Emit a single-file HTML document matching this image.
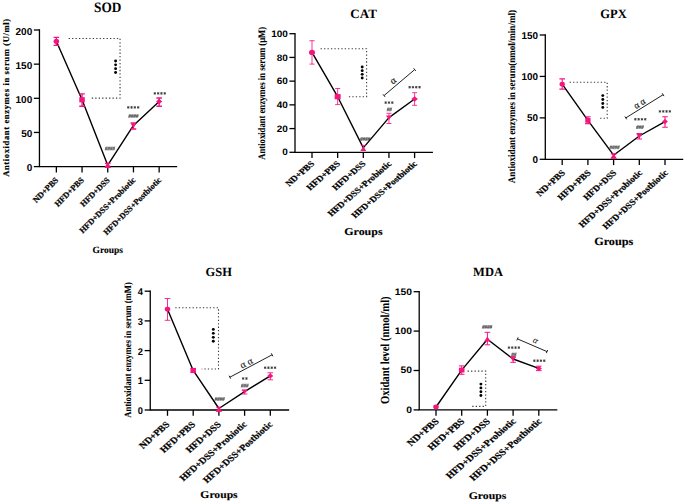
<!DOCTYPE html>
<html><head><meta charset="utf-8"><style>
html,body{margin:0;padding:0;background:#fff;}
svg{display:block;} text{text-rendering:geometricPrecision;} .sl{stroke:#000;stroke-width:0.22px;} .st{stroke:#000;stroke-width:0.12px;}
</style></head><body>
<svg width="685" height="503" viewBox="0 0 685 503">
<rect width="685" height="503" fill="#fff"/>
<path d="M39.45,30.0 L39.45,166.6 L176.5,166.6" fill="none" stroke="#000" stroke-width="1.3" stroke-linejoin="miter" stroke-linecap="square"/>
<line x1="33.85" y1="166.60" x2="39.45" y2="166.60" stroke="#000" stroke-width="1.3"/>
<text transform="translate(32.25,171.10)" font-family='"Liberation Sans", sans-serif' font-weight="bold" font-size="10" text-anchor="end">0</text>
<line x1="33.85" y1="132.45" x2="39.45" y2="132.45" stroke="#000" stroke-width="1.3"/>
<text transform="translate(32.25,136.95)" font-family='"Liberation Sans", sans-serif' font-weight="bold" font-size="10" text-anchor="end">50</text>
<line x1="33.85" y1="98.30" x2="39.45" y2="98.30" stroke="#000" stroke-width="1.3"/>
<text transform="translate(32.25,102.80)" font-family='"Liberation Sans", sans-serif' font-weight="bold" font-size="10" text-anchor="end">100</text>
<line x1="33.85" y1="64.15" x2="39.45" y2="64.15" stroke="#000" stroke-width="1.3"/>
<text transform="translate(32.25,68.65)" font-family='"Liberation Sans", sans-serif' font-weight="bold" font-size="10" text-anchor="end">150</text>
<line x1="33.85" y1="30.00" x2="39.45" y2="30.00" stroke="#000" stroke-width="1.3"/>
<text transform="translate(32.25,34.50)" font-family='"Liberation Sans", sans-serif' font-weight="bold" font-size="10" text-anchor="end">200</text>
<line x1="56.35" y1="166.6" x2="56.35" y2="172.4" stroke="#000" stroke-width="1.3"/>
<line x1="82.05" y1="166.6" x2="82.05" y2="172.4" stroke="#000" stroke-width="1.3"/>
<line x1="107.75" y1="166.6" x2="107.75" y2="172.4" stroke="#000" stroke-width="1.3"/>
<line x1="133.45" y1="166.6" x2="133.45" y2="172.4" stroke="#000" stroke-width="1.3"/>
<line x1="159.15" y1="166.6" x2="159.15" y2="172.4" stroke="#000" stroke-width="1.3"/>
<text class="sl" transform="translate(58.85,180.60) rotate(-45)" font-family='"Liberation Serif", serif' font-weight="bold" font-size="8.35" text-anchor="end">ND+PBS</text>
<text class="sl" transform="translate(84.55,180.60) rotate(-45)" font-family='"Liberation Serif", serif' font-weight="bold" font-size="8.35" text-anchor="end">HFD+PBS</text>
<text class="sl" transform="translate(110.25,180.60) rotate(-45)" font-family='"Liberation Serif", serif' font-weight="bold" font-size="8.35" text-anchor="end">HFD+DSS</text>
<text class="sl" transform="translate(135.95,180.60) rotate(-45)" font-family='"Liberation Serif", serif' font-weight="bold" font-size="8.35" text-anchor="end">HFD+DSS+Probiotic</text>
<text class="sl" transform="translate(161.65,180.60) rotate(-45)" font-family='"Liberation Serif", serif' font-weight="bold" font-size="8.35" text-anchor="end">HFD+DSS+Postbiotic</text>
<text class="st" transform="translate(107.80,253.10)" font-family='"Liberation Serif", serif' font-weight="bold" font-size="9.5" text-anchor="middle">Groups</text>
<text transform="translate(107.70,11.60) scale(0.93,1)" font-family='"Liberation Serif", serif' font-weight="bold" font-size="14.3" text-anchor="middle">SOD</text>
<text transform="translate(9.10,97.60) rotate(-90)" font-family='"Liberation Serif", serif' font-weight="bold" font-size="8.6" letter-spacing="0.6" stroke="#000" stroke-width="0.18" text-anchor="middle">Antioxidant enzymes in serum (U/ml)</text>
<path d="M68.6,38.5 L120.05,38.5 L120.05,98.1 L90,98.1" fill="none" stroke="#3a3a3a" stroke-width="1.1" stroke-dasharray="1.3,2.15"/>
<circle cx="115.6" cy="61.00" r="1.45" fill="#000"/>
<circle cx="115.6" cy="64.83" r="1.45" fill="#000"/>
<circle cx="115.6" cy="68.67" r="1.45" fill="#000"/>
<circle cx="115.6" cy="72.50" r="1.45" fill="#000"/>
<polyline points="56.35,41.30 82.05,99.80 107.75,165.20 133.45,125.40 159.15,101.50" fill="none" stroke="#000" stroke-width="1.4" stroke-linejoin="round"/>
<path d="M56.35,37.40 L56.35,45.40 M53.55,37.40 L59.15,37.40 M53.55,45.40 L59.15,45.40" stroke="#f5157f" stroke-width="1.35" fill="none"/>
<path d="M82.05,93.90 L82.05,106.20 M79.25,93.90 L84.85,93.90 M79.25,106.20 L84.85,106.20" stroke="#f5157f" stroke-width="1.35" fill="none"/>
<path d="M107.75,163.40 L107.75,167.30 M104.95,163.40 L110.55,163.40 M104.95,167.30 L110.55,167.30" stroke="#f5157f" stroke-width="1.35" fill="none"/>
<path d="M133.45,122.90 L133.45,129.00 M130.65,122.90 L136.25,122.90 M130.65,129.00 L136.25,129.00" stroke="#f5157f" stroke-width="1.35" fill="none"/>
<path d="M159.15,98.00 L159.15,106.20 M156.35,98.00 L161.95,98.00 M156.35,106.20 L161.95,106.20" stroke="#f5157f" stroke-width="1.35" fill="none"/>
<g transform="translate(56.35,41.30) scale(1.06,1)"><circle cx="0" cy="0" r="2.60" fill="#f5157f"/></g>
<g transform="translate(82.05,99.80) scale(1.06,1)"><rect x="-2.60" y="-2.60" width="5.20" height="5.20" fill="#f5157f"/></g>
<g transform="translate(107.75,165.20) scale(1.06,1)"><path d="M0,-2.86 L3.12,2.43 L-3.12,2.43Z" fill="#f5157f"/></g>
<g transform="translate(133.45,125.40) scale(1.06,1)"><path d="M0,2.57 L2.81,-2.19 L-2.81,-2.19Z" fill="#f5157f"/></g>
<g transform="translate(159.15,101.50) scale(1.06,1)"><path d="M0,-2.87 L2.87,0 L0,2.87 L-2.87,0Z" fill="#f5157f"/></g>
<path d="M105.05,150.40 L106.25,146.60 M106.15,150.40 L107.35,146.60 M105.05,147.90 L107.45,147.90 M105.05,149.10 L107.45,149.10 M107.55,150.40 L108.75,146.60 M108.65,150.40 L109.85,146.60 M107.55,147.90 L109.95,147.90 M107.55,149.10 L109.95,149.10 M110.05,150.40 L111.25,146.60 M111.15,150.40 L112.35,146.60 M110.05,147.90 L112.45,147.90 M110.05,149.10 L112.45,149.10 M112.55,150.40 L113.75,146.60 M113.65,150.40 L114.85,146.60 M112.55,147.90 L114.95,147.90 M112.55,149.10 L114.95,149.10 " stroke="#333" stroke-width="0.55" fill="none"/>
<path d="M128.25,106.14 V108.67 M127.10,106.77 L129.40,108.03 M127.10,108.03 L129.40,106.77 M131.55,106.14 V108.67 M130.40,106.77 L132.70,108.03 M130.40,108.03 L132.70,106.77 M134.85,106.14 V108.67 M133.70,106.77 L136.00,108.03 M133.70,108.03 L136.00,106.77 M138.15,106.14 V108.67 M137.00,106.77 L139.30,108.03 M137.00,108.03 L139.30,106.77 " stroke="#3a3a3a" stroke-width="0.9" fill="none"/>
<path d="M128.55,117.90 L129.75,114.10 M129.65,117.90 L130.85,114.10 M128.55,115.40 L130.95,115.40 M128.55,116.60 L130.95,116.60 M131.05,117.90 L132.25,114.10 M132.15,117.90 L133.35,114.10 M131.05,115.40 L133.45,115.40 M131.05,116.60 L133.45,116.60 M133.55,117.90 L134.75,114.10 M134.65,117.90 L135.85,114.10 M133.55,115.40 L135.95,115.40 M133.55,116.60 L135.95,116.60 M136.05,117.90 L137.25,114.10 M137.15,117.90 L138.35,114.10 M136.05,115.40 L138.45,115.40 M136.05,116.60 L138.45,116.60 " stroke="#333" stroke-width="0.55" fill="none"/>
<path d="M154.85,92.14 V94.67 M153.70,92.77 L156.00,94.03 M153.70,94.03 L156.00,92.77 M158.15,92.14 V94.67 M157.00,92.77 L159.30,94.03 M157.00,94.03 L159.30,92.77 M161.45,92.14 V94.67 M160.30,92.77 L162.60,94.03 M160.30,94.03 L162.60,92.77 M164.75,92.14 V94.67 M163.60,92.77 L165.90,94.03 M163.60,94.03 L165.90,92.77 " stroke="#3a3a3a" stroke-width="0.9" fill="none"/>
<path d="M295.0,33.7 L295.0,152.3 L432.3,152.3" fill="none" stroke="#000" stroke-width="1.3" stroke-linejoin="miter" stroke-linecap="square"/>
<line x1="289.4" y1="152.30" x2="295.0" y2="152.30" stroke="#000" stroke-width="1.3"/>
<text transform="translate(287.80,155.48) scale(1.065,1)" font-family='"Liberation Sans", sans-serif' font-weight="bold" font-size="9.4" text-anchor="end">0</text>
<line x1="289.4" y1="128.58" x2="295.0" y2="128.58" stroke="#000" stroke-width="1.3"/>
<text transform="translate(287.80,131.76) scale(1.065,1)" font-family='"Liberation Sans", sans-serif' font-weight="bold" font-size="9.4" text-anchor="end">20</text>
<line x1="289.4" y1="104.86" x2="295.0" y2="104.86" stroke="#000" stroke-width="1.3"/>
<text transform="translate(287.80,108.04) scale(1.065,1)" font-family='"Liberation Sans", sans-serif' font-weight="bold" font-size="9.4" text-anchor="end">40</text>
<line x1="289.4" y1="81.14" x2="295.0" y2="81.14" stroke="#000" stroke-width="1.3"/>
<text transform="translate(287.80,84.32) scale(1.065,1)" font-family='"Liberation Sans", sans-serif' font-weight="bold" font-size="9.4" text-anchor="end">60</text>
<line x1="289.4" y1="57.42" x2="295.0" y2="57.42" stroke="#000" stroke-width="1.3"/>
<text transform="translate(287.80,60.60) scale(1.065,1)" font-family='"Liberation Sans", sans-serif' font-weight="bold" font-size="9.4" text-anchor="end">80</text>
<line x1="289.4" y1="33.70" x2="295.0" y2="33.70" stroke="#000" stroke-width="1.3"/>
<text transform="translate(287.80,36.88) scale(1.065,1)" font-family='"Liberation Sans", sans-serif' font-weight="bold" font-size="9.4" text-anchor="end">100</text>
<line x1="312.00" y1="152.3" x2="312.00" y2="158.10000000000002" stroke="#000" stroke-width="1.3"/>
<line x1="337.65" y1="152.3" x2="337.65" y2="158.10000000000002" stroke="#000" stroke-width="1.3"/>
<line x1="363.30" y1="152.3" x2="363.30" y2="158.10000000000002" stroke="#000" stroke-width="1.3"/>
<line x1="388.95" y1="152.3" x2="388.95" y2="158.10000000000002" stroke="#000" stroke-width="1.3"/>
<line x1="414.60" y1="152.3" x2="414.60" y2="158.10000000000002" stroke="#000" stroke-width="1.3"/>
<text class="sl" transform="translate(315.00,164.30) scale(1.15,1) rotate(-45)" font-family='"Liberation Serif", serif' font-weight="bold" font-size="8.25" text-anchor="end">ND+PBS</text>
<text class="sl" transform="translate(340.65,164.30) scale(1.15,1) rotate(-45)" font-family='"Liberation Serif", serif' font-weight="bold" font-size="8.25" text-anchor="end">HFD+PBS</text>
<text class="sl" transform="translate(366.30,164.30) scale(1.15,1) rotate(-45)" font-family='"Liberation Serif", serif' font-weight="bold" font-size="8.25" text-anchor="end">HFD+DSS</text>
<text class="sl" transform="translate(391.95,164.30) scale(1.15,1) rotate(-45)" font-family='"Liberation Serif", serif' font-weight="bold" font-size="8.25" text-anchor="end">HFD+DSS+Probiotic</text>
<text class="sl" transform="translate(417.60,164.30) scale(1.15,1) rotate(-45)" font-family='"Liberation Serif", serif' font-weight="bold" font-size="8.25" text-anchor="end">HFD+DSS+Postbiotic</text>
<text class="st" transform="translate(363.40,235.00) scale(1.15,1)" font-family='"Liberation Serif", serif' font-weight="bold" font-size="10.4" text-anchor="middle">Groups</text>
<text transform="translate(363.60,18.00) scale(1.02,1)" font-family='"Liberation Serif", serif' font-weight="bold" font-size="12.8" text-anchor="middle">CAT</text>
<text transform="translate(265.20,93.30) scale(1.15,1) rotate(-90)" font-family='"Liberation Serif", serif' font-weight="bold" font-size="8.65" letter-spacing="0" stroke="#000" stroke-width="0.06" text-anchor="middle">Antioxidant enzymes in serum (μM)</text>
<path d="M320.6,48.7 L366.6,48.7 L366.6,96.7 L346.7,96.7" fill="none" stroke="#3a3a3a" stroke-width="1.1" stroke-dasharray="1.3,2.15"/>
<circle cx="362.2" cy="67.00" r="1.45" fill="#000"/>
<circle cx="362.2" cy="70.67" r="1.45" fill="#000"/>
<circle cx="362.2" cy="74.33" r="1.45" fill="#000"/>
<circle cx="362.2" cy="78.00" r="1.45" fill="#000"/>
<polyline points="312.00,52.40 337.65,96.70 363.30,147.90 388.95,117.60 414.60,99.00" fill="none" stroke="#000" stroke-width="1.4" stroke-linejoin="round"/>
<path d="M312.00,40.70 L312.00,64.10 M309.50,40.70 L314.50,40.70 M309.50,64.10 L314.50,64.10" stroke="#f5157f" stroke-width="0.85" fill="none"/>
<path d="M337.65,88.50 L337.65,104.60 M335.15,88.50 L340.15,88.50 M335.15,104.60 L340.15,104.60" stroke="#f5157f" stroke-width="0.85" fill="none"/>
<path d="M363.30,145.50 L363.30,150.50 M360.80,145.50 L365.80,145.50 M360.80,150.50 L365.80,150.50" stroke="#f5157f" stroke-width="0.85" fill="none"/>
<path d="M388.95,113.30 L388.95,123.50 M386.45,113.30 L391.45,113.30 M386.45,123.50 L391.45,123.50" stroke="#f5157f" stroke-width="0.85" fill="none"/>
<path d="M414.60,92.70 L414.60,105.30 M412.10,92.70 L417.10,92.70 M412.10,105.30 L417.10,105.30" stroke="#f5157f" stroke-width="0.85" fill="none"/>
<g transform="translate(312.00,52.40) scale(1.15,1)"><circle cx="0" cy="0" r="2.60" fill="#f5157f"/></g>
<g transform="translate(337.65,96.70) scale(1.15,1)"><rect x="-2.60" y="-2.60" width="5.20" height="5.20" fill="#f5157f"/></g>
<g transform="translate(363.30,148.90) scale(1.15,1)"><path d="M0,-2.29 L2.50,1.94 L-2.50,1.94Z" fill="#f5157f"/></g>
<g transform="translate(388.95,117.60) scale(1.15,1)"><path d="M0,2.43 L2.65,-2.07 L-2.65,-2.07Z" fill="#f5157f"/></g>
<g transform="translate(414.60,99.00) scale(1.15,1)"><path d="M0,-2.87 L2.87,0 L0,2.87 L-2.87,0Z" fill="#f5157f"/></g>
<path d="M360.25,140.90 L361.45,137.10 M361.35,140.90 L362.55,137.10 M360.25,138.40 L362.65,138.40 M360.25,139.60 L362.65,139.60 M362.75,140.90 L363.95,137.10 M363.85,140.90 L365.05,137.10 M362.75,138.40 L365.15,138.40 M362.75,139.60 L365.15,139.60 M365.25,140.90 L366.45,137.10 M366.35,140.90 L367.55,137.10 M365.25,138.40 L367.65,138.40 M365.25,139.60 L367.65,139.60 M367.75,140.90 L368.95,137.10 M368.85,140.90 L370.05,137.10 M367.75,138.40 L370.15,138.40 M367.75,139.60 L370.15,139.60 " stroke="#333" stroke-width="0.55" fill="none"/>
<path d="M385.70,101.33 V103.86 M384.55,101.97 L386.85,103.23 M384.55,103.23 L386.85,101.97 M389.00,101.33 V103.86 M387.85,101.97 L390.15,103.23 M387.85,103.23 L390.15,101.97 M392.30,101.33 V103.86 M391.15,101.97 L393.45,103.23 M391.15,103.23 L393.45,101.97 " stroke="#3a3a3a" stroke-width="0.9" fill="none"/>
<path d="M386.95,111.30 L388.15,107.50 M388.05,111.30 L389.25,107.50 M386.95,108.80 L389.35,108.80 M386.95,110.00 L389.35,110.00 M389.45,111.30 L390.65,107.50 M390.55,111.30 L391.75,107.50 M389.45,108.80 L391.85,108.80 M389.45,110.00 L391.85,110.00 " stroke="#333" stroke-width="0.55" fill="none"/>
<path d="M409.65,85.94 V88.47 M408.50,86.57 L410.80,87.83 M408.50,87.83 L410.80,86.57 M412.95,85.94 V88.47 M411.80,86.57 L414.10,87.83 M411.80,87.83 L414.10,86.57 M416.25,85.94 V88.47 M415.10,86.57 L417.40,87.83 M415.10,87.83 L417.40,86.57 M419.55,85.94 V88.47 M418.40,86.57 L420.70,87.83 M418.40,87.83 L420.70,86.57 " stroke="#3a3a3a" stroke-width="0.9" fill="none"/>
<path d="M384.0,95.6 L414.7,69.6 M382.90,94.30 L385.10,96.90 M413.60,68.30 L415.80,70.90" stroke="#222" stroke-width="1.0" fill="none"/>
<text transform="translate(393.51,81.34) rotate(-40.26)" x="0" y="2.30" font-family='"Liberation Serif", serif' font-style="normal" font-size="10" text-anchor="middle" fill="#1a1a1a" stroke="#1a1a1a" stroke-width="0.2">α</text>
<path d="M545.3,35.0 L545.3,159.3 L682.6,159.3" fill="none" stroke="#000" stroke-width="1.3" stroke-linejoin="miter" stroke-linecap="square"/>
<line x1="539.6999999999999" y1="159.30" x2="545.3" y2="159.30" stroke="#000" stroke-width="1.3"/>
<text transform="translate(538.10,162.86)" font-family='"Liberation Sans", sans-serif' font-weight="bold" font-size="9.9" text-anchor="end">0</text>
<line x1="539.6999999999999" y1="117.87" x2="545.3" y2="117.87" stroke="#000" stroke-width="1.3"/>
<text transform="translate(538.10,121.43)" font-family='"Liberation Sans", sans-serif' font-weight="bold" font-size="9.9" text-anchor="end">50</text>
<line x1="539.6999999999999" y1="76.43" x2="545.3" y2="76.43" stroke="#000" stroke-width="1.3"/>
<text transform="translate(538.10,80.00)" font-family='"Liberation Sans", sans-serif' font-weight="bold" font-size="9.9" text-anchor="end">100</text>
<line x1="539.6999999999999" y1="35.00" x2="545.3" y2="35.00" stroke="#000" stroke-width="1.3"/>
<text transform="translate(538.10,38.56)" font-family='"Liberation Sans", sans-serif' font-weight="bold" font-size="9.9" text-anchor="end">150</text>
<line x1="562.20" y1="159.3" x2="562.20" y2="165.10000000000002" stroke="#000" stroke-width="1.3"/>
<line x1="587.90" y1="159.3" x2="587.90" y2="165.10000000000002" stroke="#000" stroke-width="1.3"/>
<line x1="613.60" y1="159.3" x2="613.60" y2="165.10000000000002" stroke="#000" stroke-width="1.3"/>
<line x1="639.30" y1="159.3" x2="639.30" y2="165.10000000000002" stroke="#000" stroke-width="1.3"/>
<line x1="665.00" y1="159.3" x2="665.00" y2="165.10000000000002" stroke="#000" stroke-width="1.3"/>
<text class="sl" transform="translate(565.70,173.30) scale(1.1,1) rotate(-45)" font-family='"Liberation Serif", serif' font-weight="bold" font-size="8.6" text-anchor="end">ND+PBS</text>
<text class="sl" transform="translate(591.40,173.30) scale(1.1,1) rotate(-45)" font-family='"Liberation Serif", serif' font-weight="bold" font-size="8.6" text-anchor="end">HFD+PBS</text>
<text class="sl" transform="translate(617.10,173.30) scale(1.1,1) rotate(-45)" font-family='"Liberation Serif", serif' font-weight="bold" font-size="8.6" text-anchor="end">HFD+DSS</text>
<text class="sl" transform="translate(642.80,173.30) scale(1.1,1) rotate(-45)" font-family='"Liberation Serif", serif' font-weight="bold" font-size="8.6" text-anchor="end">HFD+DSS+Probiotic</text>
<text class="sl" transform="translate(668.50,173.30) scale(1.1,1) rotate(-45)" font-family='"Liberation Serif", serif' font-weight="bold" font-size="8.6" text-anchor="end">HFD+DSS+Postbiotic</text>
<text class="st" transform="translate(613.70,244.50) scale(1.1,1)" font-family='"Liberation Serif", serif' font-weight="bold" font-size="11.1" text-anchor="middle">Groups</text>
<text transform="translate(613.50,18.40) scale(0.98,1)" font-family='"Liberation Serif", serif' font-weight="bold" font-size="12.8" text-anchor="middle">GPX</text>
<text transform="translate(515.20,96.60) scale(1.1,1) rotate(-90)" font-family='"Liberation Serif", serif' font-weight="bold" font-size="9.06" letter-spacing="0" stroke="#000" stroke-width="0.06" text-anchor="middle">Antioxidant enzymes in serum(nmol/min/ml)</text>
<path d="M569.7,82.2 L607.2,82.2 L607.2,118.3 L599.3,118.3" fill="none" stroke="#3a3a3a" stroke-width="1.1" stroke-dasharray="1.3,2.15"/>
<circle cx="602.8" cy="95.60" r="1.45" fill="#000"/>
<circle cx="602.8" cy="99.53" r="1.45" fill="#000"/>
<circle cx="602.8" cy="103.47" r="1.45" fill="#000"/>
<circle cx="602.8" cy="107.40" r="1.45" fill="#000"/>
<polyline points="562.20,84.20 587.90,120.30 613.60,155.20 639.30,136.00 665.00,121.60" fill="none" stroke="#000" stroke-width="1.4" stroke-linejoin="round"/>
<path d="M562.20,78.90 L562.20,89.10 M559.40,78.90 L565.00,78.90 M559.40,89.10 L565.00,89.10" stroke="#f5157f" stroke-width="1.1" fill="none"/>
<path d="M587.90,116.70 L587.90,123.60 M585.10,116.70 L590.70,116.70 M585.10,123.60 L590.70,123.60" stroke="#f5157f" stroke-width="1.1" fill="none"/>
<path d="M613.60,153.90 L613.60,158.30 M610.80,153.90 L616.40,153.90 M610.80,158.30 L616.40,158.30" stroke="#f5157f" stroke-width="1.1" fill="none"/>
<path d="M639.30,133.50 L639.30,139.00 M636.50,133.50 L642.10,133.50 M636.50,139.00 L642.10,139.00" stroke="#f5157f" stroke-width="1.1" fill="none"/>
<path d="M665.00,116.70 L665.00,127.20 M662.20,116.70 L667.80,116.70 M662.20,127.20 L667.80,127.20" stroke="#f5157f" stroke-width="1.1" fill="none"/>
<g transform="translate(562.20,84.20) scale(1.1,1)"><circle cx="0" cy="0" r="2.40" fill="#f5157f"/></g>
<g transform="translate(587.90,120.30) scale(1.1,1)"><rect x="-2.40" y="-2.40" width="4.80" height="4.80" fill="#f5157f"/></g>
<g transform="translate(613.60,156.20) scale(1.1,1)"><path d="M0,-2.64 L2.88,2.24 L-2.88,2.24Z" fill="#f5157f"/></g>
<g transform="translate(639.30,136.00) scale(1.1,1)"><path d="M0,2.38 L2.59,-2.02 L-2.59,-2.02Z" fill="#f5157f"/></g>
<g transform="translate(665.00,121.60) scale(1.1,1)"><path d="M0,-2.65 L2.65,0 L0,2.65 L-2.65,0Z" fill="#f5157f"/></g>
<path d="M609.65,149.20 L610.85,145.40 M610.75,149.20 L611.95,145.40 M609.65,146.70 L612.05,146.70 M609.65,147.90 L612.05,147.90 M612.15,149.20 L613.35,145.40 M613.25,149.20 L614.45,145.40 M612.15,146.70 L614.55,146.70 M612.15,147.90 L614.55,147.90 M614.65,149.20 L615.85,145.40 M615.75,149.20 L616.95,145.40 M614.65,146.70 L617.05,146.70 M614.65,147.90 L617.05,147.90 M617.15,149.20 L618.35,145.40 M618.25,149.20 L619.45,145.40 M617.15,146.70 L619.55,146.70 M617.15,147.90 L619.55,147.90 " stroke="#333" stroke-width="0.55" fill="none"/>
<path d="M635.35,118.03 V120.56 M634.20,118.67 L636.50,119.93 M634.20,119.93 L636.50,118.67 M638.65,118.03 V120.56 M637.50,118.67 L639.80,119.93 M637.50,119.93 L639.80,118.67 M641.95,118.03 V120.56 M640.80,118.67 L643.10,119.93 M640.80,119.93 L643.10,118.67 M645.25,118.03 V120.56 M644.10,118.67 L646.40,119.93 M644.10,119.93 L646.40,118.67 " stroke="#3a3a3a" stroke-width="0.9" fill="none"/>
<path d="M636.30,129.00 L637.50,125.20 M637.40,129.00 L638.60,125.20 M636.30,126.50 L638.70,126.50 M636.30,127.70 L638.70,127.70 M638.80,129.00 L640.00,125.20 M639.90,129.00 L641.10,125.20 M638.80,126.50 L641.20,126.50 M638.80,127.70 L641.20,127.70 M641.30,129.00 L642.50,125.20 M642.40,129.00 L643.60,125.20 M641.30,126.50 L643.70,126.50 M641.30,127.70 L643.70,127.70 " stroke="#333" stroke-width="0.55" fill="none"/>
<path d="M659.95,110.14 V112.67 M658.80,110.77 L661.10,112.03 M658.80,112.03 L661.10,110.77 M663.25,110.14 V112.67 M662.10,110.77 L664.40,112.03 M662.10,112.03 L664.40,110.77 M666.55,110.14 V112.67 M665.40,110.77 L667.70,112.03 M665.40,112.03 L667.70,110.77 M669.85,110.14 V112.67 M668.70,110.77 L671.00,112.03 M668.70,112.03 L671.00,110.77 " stroke="#3a3a3a" stroke-width="0.9" fill="none"/>
<path d="M625.8,117.9 L663.1,94.7 M624.90,116.46 L626.70,119.34 M662.20,93.26 L664.00,96.14" stroke="#222" stroke-width="1.0" fill="none"/>
<text transform="translate(639.98,104.29) rotate(-31.88)" x="0" y="2.14" font-family='"Liberation Serif", serif' font-style="normal" font-size="9.3" text-anchor="middle" fill="#1a1a1a" stroke="#1a1a1a" stroke-width="0.2">α α</text>
<path d="M150.25,291.2 L150.25,410.0 L288.5,410.0" fill="none" stroke="#000" stroke-width="1.3" stroke-linejoin="miter" stroke-linecap="square"/>
<line x1="144.65" y1="410.00" x2="150.25" y2="410.00" stroke="#000" stroke-width="1.3"/>
<text transform="translate(143.05,414.03) scale(0.95,1)" font-family='"Liberation Sans", sans-serif' font-weight="bold" font-size="9.8" text-anchor="end">0</text>
<line x1="144.65" y1="380.30" x2="150.25" y2="380.30" stroke="#000" stroke-width="1.3"/>
<text transform="translate(143.05,384.33) scale(0.95,1)" font-family='"Liberation Sans", sans-serif' font-weight="bold" font-size="9.8" text-anchor="end">1</text>
<line x1="144.65" y1="350.60" x2="150.25" y2="350.60" stroke="#000" stroke-width="1.3"/>
<text transform="translate(143.05,354.63) scale(0.95,1)" font-family='"Liberation Sans", sans-serif' font-weight="bold" font-size="9.8" text-anchor="end">2</text>
<line x1="144.65" y1="320.90" x2="150.25" y2="320.90" stroke="#000" stroke-width="1.3"/>
<text transform="translate(143.05,324.93) scale(0.95,1)" font-family='"Liberation Sans", sans-serif' font-weight="bold" font-size="9.8" text-anchor="end">3</text>
<line x1="144.65" y1="291.20" x2="150.25" y2="291.20" stroke="#000" stroke-width="1.3"/>
<text transform="translate(143.05,295.23) scale(0.95,1)" font-family='"Liberation Sans", sans-serif' font-weight="bold" font-size="9.8" text-anchor="end">4</text>
<line x1="167.50" y1="410.0" x2="167.50" y2="415.8" stroke="#000" stroke-width="1.3"/>
<line x1="193.20" y1="410.0" x2="193.20" y2="415.8" stroke="#000" stroke-width="1.3"/>
<line x1="218.90" y1="410.0" x2="218.90" y2="415.8" stroke="#000" stroke-width="1.3"/>
<line x1="244.60" y1="410.0" x2="244.60" y2="415.8" stroke="#000" stroke-width="1.3"/>
<line x1="270.30" y1="410.0" x2="270.30" y2="415.8" stroke="#000" stroke-width="1.3"/>
<text class="sl" transform="translate(170.30,425.00) scale(1.13,1) rotate(-45)" font-family='"Liberation Serif", serif' font-weight="bold" font-size="8.9" text-anchor="end">ND+PBS</text>
<text class="sl" transform="translate(196.00,425.00) scale(1.13,1) rotate(-45)" font-family='"Liberation Serif", serif' font-weight="bold" font-size="8.9" text-anchor="end">HFD+PBS</text>
<text class="sl" transform="translate(221.70,425.00) scale(1.13,1) rotate(-45)" font-family='"Liberation Serif", serif' font-weight="bold" font-size="8.9" text-anchor="end">HFD+DSS</text>
<text class="sl" transform="translate(247.40,425.00) scale(1.13,1) rotate(-45)" font-family='"Liberation Serif", serif' font-weight="bold" font-size="8.9" text-anchor="end">HFD+DSS+Probiotic</text>
<text class="sl" transform="translate(273.10,425.00) scale(1.13,1) rotate(-45)" font-family='"Liberation Serif", serif' font-weight="bold" font-size="8.9" text-anchor="end">HFD+DSS+Postbiotic</text>
<text class="st" transform="translate(219.00,498.00) scale(1.13,1)" font-family='"Liberation Serif", serif' font-weight="bold" font-size="10.3" text-anchor="middle">Groups</text>
<text transform="translate(218.70,275.80)" font-family='"Liberation Serif", serif' font-weight="bold" font-size="12.45" text-anchor="middle">GSH</text>
<text transform="translate(131.30,350.00) scale(1.13,1) rotate(-90)" font-family='"Liberation Serif", serif' font-weight="bold" font-size="8.67" letter-spacing="0" stroke="#000" stroke-width="0.05" text-anchor="middle">Antioxidant enzymes in serum (mM)</text>
<path d="M175.3,307.7 L218.5,307.7 L218.5,369 L201.7,369" fill="none" stroke="#3a3a3a" stroke-width="1.1" stroke-dasharray="1.3,2.15"/>
<circle cx="213.3" cy="329.40" r="1.45" fill="#000"/>
<circle cx="213.3" cy="333.37" r="1.45" fill="#000"/>
<circle cx="213.3" cy="337.33" r="1.45" fill="#000"/>
<circle cx="213.3" cy="341.30" r="1.45" fill="#000"/>
<polyline points="167.50,309.20 193.20,370.40 218.90,408.50 244.60,391.70 270.30,375.90" fill="none" stroke="#000" stroke-width="1.4" stroke-linejoin="round"/>
<path d="M167.50,298.50 L167.50,320.30 M164.70,298.50 L170.30,298.50 M164.70,320.30 L170.30,320.30" stroke="#f5157f" stroke-width="0.9" fill="none"/>
<path d="M193.20,368.40 L193.20,372.60 M190.40,368.40 L196.00,368.40 M190.40,372.60 L196.00,372.60" stroke="#f5157f" stroke-width="0.9" fill="none"/>
<path d="M218.90,407.20 L218.90,411.30 M216.10,407.20 L221.70,407.20 M216.10,411.30 L221.70,411.30" stroke="#f5157f" stroke-width="0.9" fill="none"/>
<path d="M244.60,390.00 L244.60,394.00 M241.80,390.00 L247.40,390.00 M241.80,394.00 L247.40,394.00" stroke="#f5157f" stroke-width="0.9" fill="none"/>
<path d="M270.30,372.80 L270.30,379.80 M267.50,372.80 L273.10,372.80 M267.50,379.80 L273.10,379.80" stroke="#f5157f" stroke-width="0.9" fill="none"/>
<g transform="translate(167.50,309.20) scale(1.13,1)"><circle cx="0" cy="0" r="2.40" fill="#f5157f"/></g>
<g transform="translate(193.20,370.40) scale(1.13,1)"><rect x="-2.40" y="-2.40" width="4.80" height="4.80" fill="#f5157f"/></g>
<g transform="translate(218.90,409.20) scale(1.13,1)"><path d="M0,-2.64 L2.88,2.24 L-2.88,2.24Z" fill="#f5157f"/></g>
<g transform="translate(244.60,391.70) scale(1.13,1)"><path d="M0,2.38 L2.59,-2.02 L-2.59,-2.02Z" fill="#f5157f"/></g>
<g transform="translate(270.30,375.90) scale(1.13,1)"><path d="M0,-2.65 L2.65,0 L0,2.65 L-2.65,0Z" fill="#f5157f"/></g>
<path d="M214.75,400.90 L215.95,397.10 M215.85,400.90 L217.05,397.10 M214.75,398.40 L217.15,398.40 M214.75,399.60 L217.15,399.60 M217.25,400.90 L218.45,397.10 M218.35,400.90 L219.55,397.10 M217.25,398.40 L219.65,398.40 M217.25,399.60 L219.65,399.60 M219.75,400.90 L220.95,397.10 M220.85,400.90 L222.05,397.10 M219.75,398.40 L222.15,398.40 M219.75,399.60 L222.15,399.60 M222.25,400.90 L223.45,397.10 M223.35,400.90 L224.55,397.10 M222.25,398.40 L224.65,398.40 M222.25,399.60 L224.65,399.60 " stroke="#333" stroke-width="0.55" fill="none"/>
<path d="M243.15,377.24 V379.76 M242.00,377.87 L244.30,379.13 M242.00,379.13 L244.30,377.87 M246.45,377.24 V379.76 M245.30,377.87 L247.60,379.13 M245.30,379.13 L247.60,377.87 " stroke="#3a3a3a" stroke-width="0.9" fill="none"/>
<path d="M241.10,387.50 L242.30,383.70 M242.20,387.50 L243.40,383.70 M241.10,385.00 L243.50,385.00 M241.10,386.20 L243.50,386.20 M243.60,387.50 L244.80,383.70 M244.70,387.50 L245.90,383.70 M243.60,385.00 L246.00,385.00 M243.60,386.20 L246.00,386.20 M246.10,387.50 L247.30,383.70 M247.20,387.50 L248.40,383.70 M246.10,385.00 L248.50,385.00 M246.10,386.20 L248.50,386.20 " stroke="#333" stroke-width="0.55" fill="none"/>
<path d="M265.15,366.44 V368.96 M264.00,367.07 L266.30,368.33 M264.00,368.33 L266.30,367.07 M268.45,366.44 V368.96 M267.30,367.07 L269.60,368.33 M267.30,368.33 L269.60,367.07 M271.75,366.44 V368.96 M270.60,367.07 L272.90,368.33 M270.60,368.33 L272.90,367.07 M275.05,366.44 V368.96 M273.90,367.07 L276.20,368.33 M273.90,368.33 L276.20,367.07 " stroke="#3a3a3a" stroke-width="0.9" fill="none"/>
<path d="M229.9,377.2 L272.1,354.8 M229.10,375.70 L230.70,378.70 M271.30,353.30 L272.90,356.30" stroke="#222" stroke-width="1.0" fill="none"/>
<text transform="translate(246.72,363.77) rotate(-27.96)" x="0" y="2.30" font-family='"Liberation Serif", serif' font-style="normal" font-size="10" text-anchor="middle" fill="#1a1a1a" stroke="#1a1a1a" stroke-width="0.08">α α</text>
<path d="M419.2,291.7 L419.2,409.9 L556.7,409.9" fill="none" stroke="#000" stroke-width="1.3" stroke-linejoin="miter" stroke-linecap="square"/>
<line x1="413.59999999999997" y1="409.90" x2="419.2" y2="409.90" stroke="#000" stroke-width="1.3"/>
<text transform="translate(412.00,412.88) scale(1.1,1)" font-family='"Liberation Sans", sans-serif' font-weight="bold" font-size="9.4" text-anchor="end">0</text>
<line x1="413.59999999999997" y1="370.50" x2="419.2" y2="370.50" stroke="#000" stroke-width="1.3"/>
<text transform="translate(412.00,373.48) scale(1.1,1)" font-family='"Liberation Sans", sans-serif' font-weight="bold" font-size="9.4" text-anchor="end">50</text>
<line x1="413.59999999999997" y1="331.10" x2="419.2" y2="331.10" stroke="#000" stroke-width="1.3"/>
<text transform="translate(412.00,334.08) scale(1.1,1)" font-family='"Liberation Sans", sans-serif' font-weight="bold" font-size="9.4" text-anchor="end">100</text>
<line x1="413.59999999999997" y1="291.70" x2="419.2" y2="291.70" stroke="#000" stroke-width="1.3"/>
<text transform="translate(412.00,294.68) scale(1.1,1)" font-family='"Liberation Sans", sans-serif' font-weight="bold" font-size="9.4" text-anchor="end">150</text>
<line x1="436.00" y1="409.9" x2="436.00" y2="415.7" stroke="#000" stroke-width="1.3"/>
<line x1="461.70" y1="409.9" x2="461.70" y2="415.7" stroke="#000" stroke-width="1.3"/>
<line x1="487.40" y1="409.9" x2="487.40" y2="415.7" stroke="#000" stroke-width="1.3"/>
<line x1="513.10" y1="409.9" x2="513.10" y2="415.7" stroke="#000" stroke-width="1.3"/>
<line x1="538.80" y1="409.9" x2="538.80" y2="415.7" stroke="#000" stroke-width="1.3"/>
<text class="sl" transform="translate(439.50,421.90) scale(1.16,1) rotate(-45)" font-family='"Liberation Serif", serif' font-weight="bold" font-size="9.0" text-anchor="end">ND+PBS</text>
<text class="sl" transform="translate(465.20,421.90) scale(1.16,1) rotate(-45)" font-family='"Liberation Serif", serif' font-weight="bold" font-size="9.0" text-anchor="end">HFD+PBS</text>
<text class="sl" transform="translate(490.90,421.90) scale(1.16,1) rotate(-45)" font-family='"Liberation Serif", serif' font-weight="bold" font-size="9.0" text-anchor="end">HFD+DSS</text>
<text class="sl" transform="translate(516.60,421.90) scale(1.16,1) rotate(-45)" font-family='"Liberation Serif", serif' font-weight="bold" font-size="9.0" text-anchor="end">HFD+DSS+Probiotic</text>
<text class="sl" transform="translate(542.30,421.90) scale(1.16,1) rotate(-45)" font-family='"Liberation Serif", serif' font-weight="bold" font-size="9.0" text-anchor="end">HFD+DSS+Postbiotic</text>
<text class="st" transform="translate(487.50,498.50) scale(1.16,1)" font-family='"Liberation Serif", serif' font-weight="bold" font-size="10.1" text-anchor="middle">Groups</text>
<text transform="translate(488.00,275.80)" font-family='"Liberation Serif", serif' font-weight="bold" font-size="12.5" text-anchor="middle">MDA</text>
<text transform="translate(388.80,350.20) scale(1.16,1) rotate(-90)" font-family='"Liberation Serif", serif' font-weight="bold" font-size="10.6" letter-spacing="0" stroke="#000" stroke-width="0.06" text-anchor="middle">Oxidant level (nmol/ml)</text>
<path d="M467.6,371.1 L485.7,371.1 L485.7,406.4 L470.1,406.4" fill="none" stroke="#3a3a3a" stroke-width="1.1" stroke-dasharray="1.3,2.15"/>
<circle cx="480.9" cy="384.10" r="1.45" fill="#000"/>
<circle cx="480.9" cy="387.90" r="1.45" fill="#000"/>
<circle cx="480.9" cy="391.70" r="1.45" fill="#000"/>
<circle cx="480.9" cy="395.50" r="1.45" fill="#000"/>
<polyline points="436.00,407.00 461.70,370.10 487.40,339.20 513.10,359.00 538.80,368.40" fill="none" stroke="#000" stroke-width="1.4" stroke-linejoin="round"/>
<path d="M461.70,365.90 L461.70,374.30 M458.90,365.90 L464.50,365.90 M458.90,374.30 L464.50,374.30" stroke="#f5157f" stroke-width="1.0" fill="none"/>
<path d="M487.40,332.30 L487.40,344.80 M484.60,332.30 L490.20,332.30 M484.60,344.80 L490.20,344.80" stroke="#f5157f" stroke-width="1.0" fill="none"/>
<path d="M513.10,356.70 L513.10,362.30 M510.30,356.70 L515.90,356.70 M510.30,362.30 L515.90,362.30" stroke="#f5157f" stroke-width="1.0" fill="none"/>
<path d="M538.80,366.20 L538.80,370.60 M536.00,366.20 L541.60,366.20 M536.00,370.60 L541.60,370.60" stroke="#f5157f" stroke-width="1.0" fill="none"/>
<g transform="translate(436.00,407.00) scale(1.16,1)"><circle cx="0" cy="0" r="2.40" fill="#f5157f"/></g>
<g transform="translate(461.70,370.10) scale(1.16,1)"><rect x="-2.40" y="-2.40" width="4.80" height="4.80" fill="#f5157f"/></g>
<g transform="translate(487.40,339.20) scale(1.16,1)"><path d="M0,-2.64 L2.88,2.24 L-2.88,2.24Z" fill="#f5157f"/></g>
<g transform="translate(513.10,359.00) scale(1.16,1)"><path d="M0,2.38 L2.59,-2.02 L-2.59,-2.02Z" fill="#f5157f"/></g>
<g transform="translate(538.80,368.40) scale(1.16,1)"><path d="M0,-2.65 L2.65,0 L0,2.65 L-2.65,0Z" fill="#f5157f"/></g>
<path d="M482.25,328.80 L483.45,325.00 M483.35,328.80 L484.55,325.00 M482.25,326.30 L484.65,326.30 M482.25,327.50 L484.65,327.50 M484.75,328.80 L485.95,325.00 M485.85,328.80 L487.05,325.00 M484.75,326.30 L487.15,326.30 M484.75,327.50 L487.15,327.50 M487.25,328.80 L488.45,325.00 M488.35,328.80 L489.55,325.00 M487.25,326.30 L489.65,326.30 M487.25,327.50 L489.65,327.50 M489.75,328.80 L490.95,325.00 M490.85,328.80 L492.05,325.00 M489.75,326.30 L492.15,326.30 M489.75,327.50 L492.15,327.50 " stroke="#333" stroke-width="0.55" fill="none"/>
<path d="M508.95,346.34 V348.87 M507.80,346.97 L510.10,348.23 M507.80,348.23 L510.10,346.97 M512.25,346.34 V348.87 M511.10,346.97 L513.40,348.23 M511.10,348.23 L513.40,346.97 M515.55,346.34 V348.87 M514.40,346.97 L516.70,348.23 M514.40,348.23 L516.70,346.97 M518.85,346.34 V348.87 M517.70,346.97 L520.00,348.23 M517.70,348.23 L520.00,346.97 " stroke="#3a3a3a" stroke-width="0.9" fill="none"/>
<path d="M511.45,356.40 L512.65,352.60 M512.55,356.40 L513.75,352.60 M511.45,353.90 L513.85,353.90 M511.45,355.10 L513.85,355.10 M513.95,356.40 L515.15,352.60 M515.05,356.40 L516.25,352.60 M513.95,353.90 L516.35,353.90 M513.95,355.10 L516.35,355.10 " stroke="#333" stroke-width="0.55" fill="none"/>
<path d="M534.35,359.44 V361.96 M533.20,360.07 L535.50,361.33 M533.20,361.33 L535.50,360.07 M537.65,359.44 V361.96 M536.50,360.07 L538.80,361.33 M536.50,361.33 L538.80,360.07 M540.95,359.44 V361.96 M539.80,360.07 L542.10,361.33 M539.80,361.33 L542.10,360.07 M544.25,359.44 V361.96 M543.10,360.07 L545.40,361.33 M543.10,361.33 L545.40,360.07 " stroke="#3a3a3a" stroke-width="0.9" fill="none"/>
<path d="M517.5,338.9 L547.0,351.6 M518.17,337.34 L516.83,340.46 M547.67,350.04 L546.33,353.16" stroke="#222" stroke-width="1.0" fill="none"/>
<text transform="translate(535.34,341.05) rotate(23.29)" x="0" y="2.07" font-family='"Liberation Serif", serif' font-style="italic" font-size="9" text-anchor="middle" fill="#1a1a1a" stroke="#1a1a1a" stroke-width="0.05">α</text>
</svg>
</body></html>
